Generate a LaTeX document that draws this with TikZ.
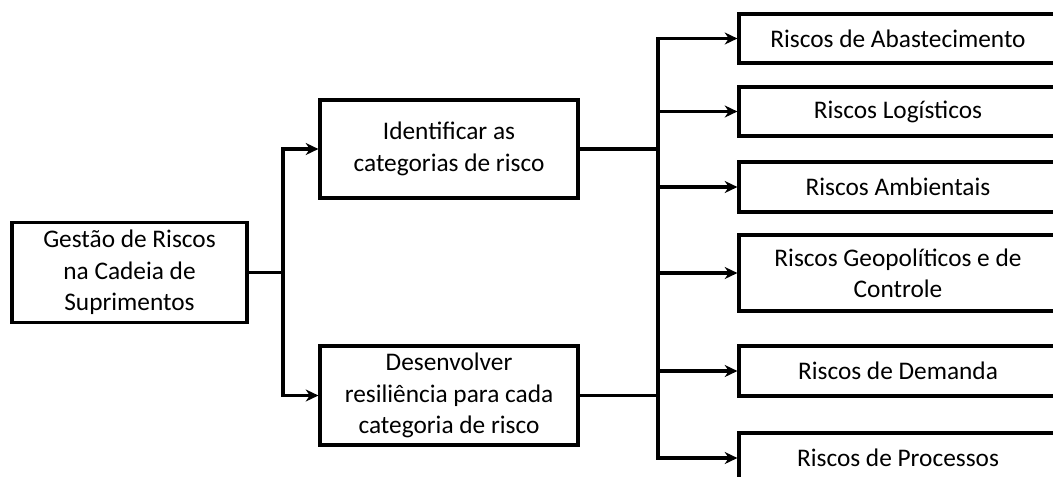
\documentclass[tikz,border=0pt]{standalone}
\usepackage{fontspec}
\setmainfont{Carlito}
\usetikzlibrary{arrows.meta}
\begin{document}
\begin{tikzpicture}[x=0.75pt,y=-0.75pt,
  box/.style={draw=black,line width=2.4pt,fill=white,align=center,inner sep=0pt,
    font=\fontsize{19}{23.5}\selectfont},
  rbox/.style={box,minimum width=238.5pt},
  conn/.style={line width=2.4pt,draw=black},
  arr/.style={conn,-{Stealth[length=9.5pt,width=9pt,inset=3pt]}}]
\useasboundingbox (0,0) rectangle (1053,476);
\clip (0,0) rectangle (1053,476);
\node[box,minimum width=176.25pt,minimum height=75pt] (main) at (129.5,272.5)
  {Gestão de Riscos\\na Cadeia de\\Suprimentos};
\node[box,minimum width=193.5pt,minimum height=73.5pt] (id) at (449,149)
  {Identificar as\\categorias de risco};
\node[box,minimum width=193.5pt,minimum height=74.25pt] (des) at (449,395.5)
  {Desenvolver\\resiliência para cada\\categoria de risco};
\node[rbox,minimum height=36.75pt] (r1) at (898,38.5) {Riscos de Abastecimento};
\node[rbox,minimum height=36.75pt] (r2) at (898,111.5) {Riscos Logísticos};
\node[rbox,minimum height=37.5pt] (r3) at (898,187) {Riscos Ambientais};
\node[rbox,minimum height=57pt] (r4) at (898,273) {Riscos Geopolíticos e de\\Controle};
\node[rbox,minimum height=37.5pt] (r5) at (898,371) {Riscos de Demanda};
\node[rbox,minimum height=37.5pt] (r6) at (898,458) {Riscos de Processos};
\coordinate (j1) at (283,272.5);
\coordinate (j2) at (658,149);
\coordinate (j3) at (658,395.5);
\coordinate (t1) at (658,38.5);
\coordinate (t6) at (658,458);
\draw[conn] (main.east) -- (j1);
\draw[arr] (j1) |- (id.west);
\draw[arr] (j1) |- (des.west);
\draw[conn] (id.east) -- (j2);
\draw[conn] (des.east) -- (j3);
\draw[conn] (t1) -- (t6);
\draw[arr] (j2) |- (r1.west);
\draw[arr] (j2) |- (r2.west);
\draw[arr] (j2) |- (r3.west);
\draw[arr] (j2) |- (r4.west);
\draw[arr] (j3) |- (r5.west);
\draw[arr] (j3) |- (r6.west);
\end{tikzpicture}
\end{document}
